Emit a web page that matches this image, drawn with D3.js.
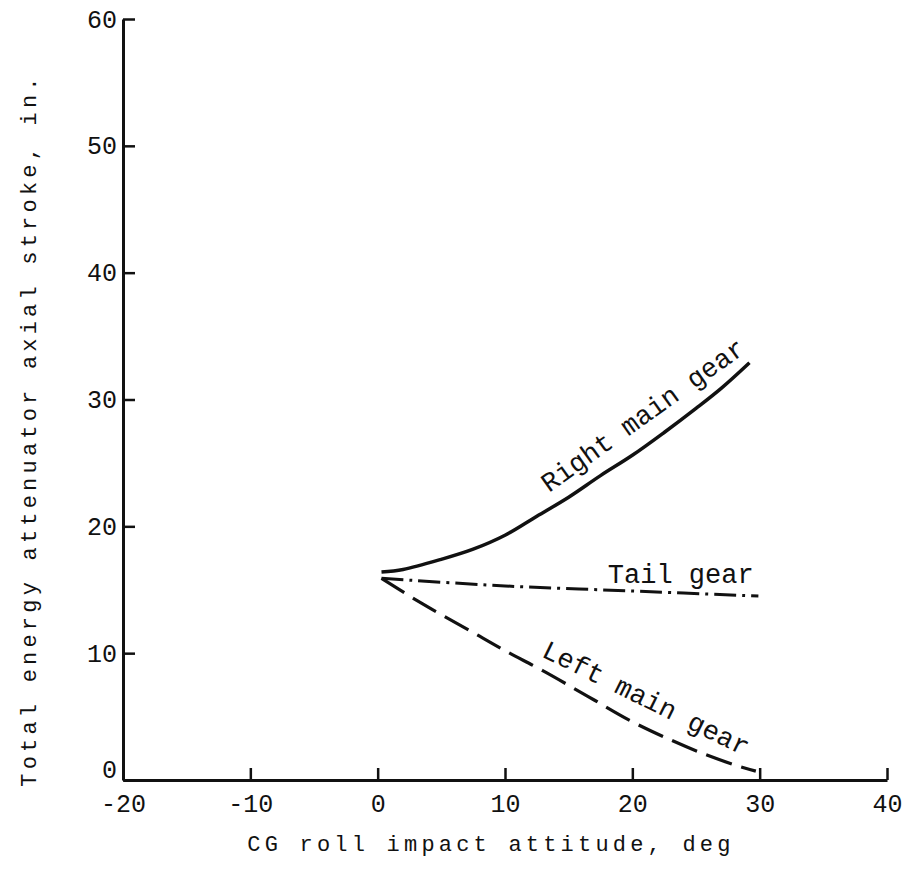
<!DOCTYPE html>
<html>
<head>
<meta charset="utf-8">
<script src="https://cdn.jsdelivr.net/npm/d3@7"></script>
<style>
  html, body { margin: 0; padding: 0; background: #fff; }
  svg { display: block; }
  text { font-family: "Courier New", "Liberation Mono", monospace; fill: #111; }
</style>
</head>
<body>
<svg id="chart" width="903" height="873"></svg>
<script>
// ---- data ----
const xTicks = [-20, -10, 0, 10, 20, 30, 40];
const yTicks = [0, 10, 20, 30, 40, 50, 60];
const xTitle = "CG roll impact attitude, deg";
const yTitle = "Total energy attenuator axial stroke, in.";

const rightMainX = [0.3, 2, 5, 7.5, 10, 12.5, 15, 17.5, 20, 22.5, 25, 27, 29.2];
const rightMainY = [16.4, 16.6, 17.4, 18.2, 19.3, 20.8, 22.3, 24.0, 25.6, 27.4, 29.3, 30.9, 32.9];
const tailX = [0.3, 10, 20, 29.9];
const tailY = [15.9, 15.3, 14.9, 14.5];
const leftMainX = [0.3, 3.5, 7.2, 10, 13, 16.5, 19.8, 22.7, 25.5, 28, 29.7];
const leftMainY = [15.9, 13.9, 11.8, 10.2, 8.6, 6.6, 4.7, 3.3, 2.1, 1.2, 0.7];

const labels = ["Right main gear", "Tail gear", "Left main gear"];

// ---- layout ----
const svg = d3.select("#chart");
const x = d3.scaleLinear().domain([-20, 40]).range([123, 887]);
const y = d3.scaleLinear().domain([0, 60]).range([780, 19]);

const fmt = d => (d < 0 ? "-" + Math.abs(d) : String(d));

// x axis
const gx = svg.append("g")
  .attr("transform", `translate(0,${y(0)})`)
  .call(d3.axisBottom(x).tickValues(xTicks).tickFormat(fmt).tickSizeInner(-12).tickSizeOuter(0).tickPadding(14));
gx.select(".domain").attr("stroke", "#111").attr("stroke-width", 3);
gx.selectAll(".tick line").attr("stroke", "#111").attr("stroke-width", 2.5);
gx.selectAll(".tick text").attr("font-size", 25).attr("font-family", "Liberation Mono, monospace").attr("fill", "#111");

// y axis
const gy = svg.append("g")
  .attr("transform", `translate(${x(-20)},0)`)
  .call(d3.axisLeft(y).tickValues(yTicks).tickFormat(fmt).tickSizeInner(-12).tickSizeOuter(0).tickPadding(6));
gy.select(".domain").attr("stroke", "#111").attr("stroke-width", 3);
gy.selectAll(".tick line").attr("stroke", "#111").attr("stroke-width", 2.5);
gy.selectAll(".tick text").attr("font-size", 25).attr("font-family", "Liberation Mono, monospace").attr("fill", "#111")
  .attr("dy", d => d === 0 ? "-0.1em" : "0.32em");

// titles
svg.append("text")
  .attr("x", x(8.9)).attr("y", 851)
  .attr("text-anchor", "middle")
  .attr("font-size", 22).attr("letter-spacing", 4.2)
  .text(xTitle);
svg.append("text")
  .attr("transform", `translate(36,430) rotate(-90)`)
  .attr("text-anchor", "middle")
  .attr("font-size", 22).attr("letter-spacing", 4.2)
  .text(yTitle);

// curves
const line = d3.line().x(d => x(d[0])).y(d => y(d[1])).curve(d3.curveCatmullRom.alpha(0.5));
const zip = (a, b) => a.map((v, i) => [v, b[i]]);

svg.append("path").datum(zip(rightMainX, rightMainY))
  .attr("d", line).attr("fill", "none").attr("stroke", "#111").attr("stroke-width", 3.5);
svg.append("path").datum(zip(tailX, tailY))
  .attr("d", line).attr("fill", "none").attr("stroke", "#111").attr("stroke-width", 3)
  .attr("stroke-dasharray", "22,6,3,6");
svg.append("path").datum(zip(leftMainX, leftMainY))
  .attr("d", line).attr("fill", "none").attr("stroke", "#111").attr("stroke-width", 3.2)
  .attr("stroke-dasharray", "27,10");

// curve labels
svg.append("text")
  .attr("transform", `translate(${x(20.8)},${y(28.8)}) rotate(-35.5)`)
  .attr("text-anchor", "middle").attr("dy", "0.35em")
  .attr("font-size", 27).text(labels[0]);
svg.append("text")
  .attr("transform", `translate(${x(23.8)},${y(16.3)})`)
  .attr("text-anchor", "middle").attr("dy", "0.35em")
  .attr("font-size", 27).text(labels[1]);
svg.append("text")
  .attr("transform", `translate(${x(21.1)},${y(6.5)}) rotate(26.2)`)
  .attr("text-anchor", "middle").attr("dy", "0.35em")
  .attr("font-size", 27).text(labels[2]);
</script>
</body>
</html>
